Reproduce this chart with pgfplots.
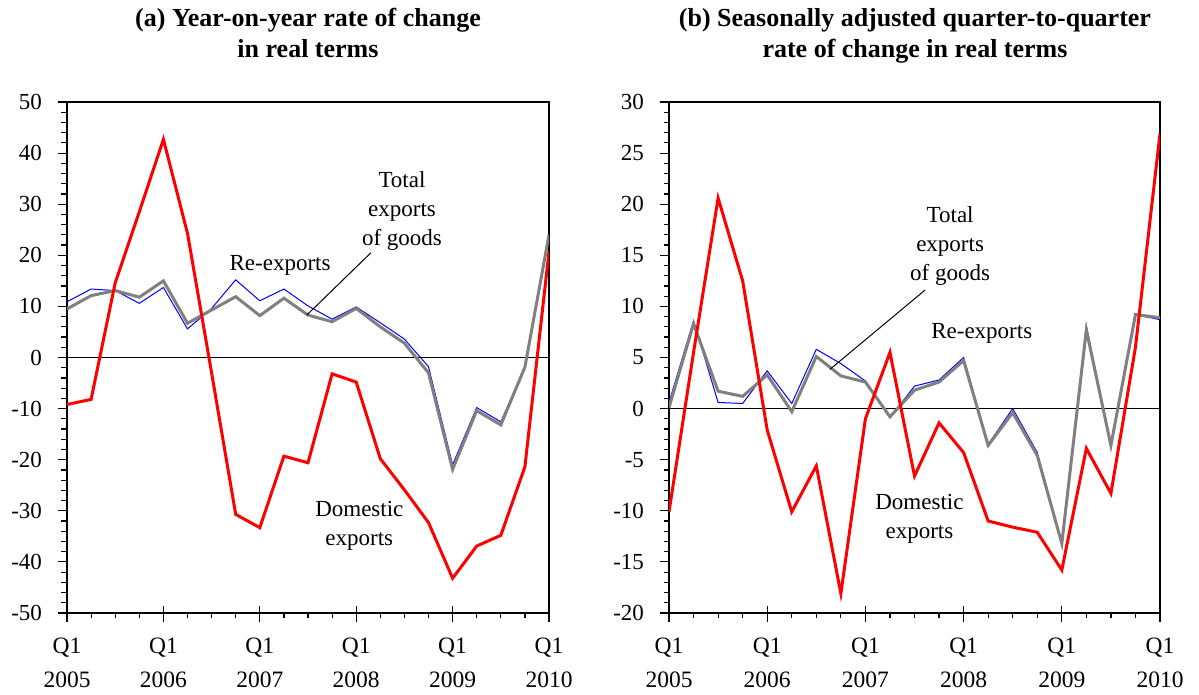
\documentclass[border=0pt]{standalone}
\usepackage{fontspec}
\setmainfont{Liberation Serif}
\usepackage{pgfplots}
\usepackage{pgfplotstable}
\pgfplotsset{compat=1.18}

% q = quarter index from Q1 2005
\pgfplotstableread{
q  re     tot    dom
0  10.9   9.5   -9.2
1  13.4   12.1  -8.2
2  13.1   13.1  14.6
3  10.6   11.8  28.5
4  13.7   15.0  42.7
5  5.6    6.7   24.3
6  9.6    9.3   -3.0
7  15.2   11.9  -30.7
8  11.1   8.2   -33.3
9  13.4   11.6  -19.3
10 10.1   8.3   -20.6
11 7.5    7.0   -3.2
12 9.9    9.6   -4.8
13 6.8    6.0   -19.8
14 3.6    2.8   -25.9
15 -1.8   -3.0  -32.3
16 -21.0  -21.9 -43.2
17 -9.8   -10.4 -36.9
18 -12.6  -13.2 -34.8
19 -1.8   -1.9  -21.4
20 23.5   24.0  20.7
}\yoy

\pgfplotstableread{
q  re     tot    dom
0  0.6    0.1   -10.1
1  8.6    8.3   5.5
2  0.6    1.7   20.6
3  0.5    1.2   12.5
4  3.7    3.3   -2.1
5  0.5    -0.3  -10.1
6  5.8    5.1   -5.6
7  4.4    3.2   -18.1
8  2.7    2.6   -1.0
9  -0.9   -0.8  5.5
10 2.2    1.8   -6.6
11 2.8    2.6   -1.4
12 5.0    4.7   -4.3
13 -3.5   -3.6  -11.0
14 0.0    -0.4  -11.6
15 -4.3   -4.6  -12.1
16 -13.1  -13.2 -15.8
17 8.1    7.7   -3.9
18 -3.6   -3.6  -8.3
19 9.2    9.2   6.0
20 8.7    8.9   26.9
}\qoq

\definecolor{tgray}{RGB}{128,128,128}

\tikzset{lab/.style={font=\fontsize{11.5}{14.5}\selectfont, align=center}}

\pgfplotsset{
  panel/.style={
    scale only axis, height=255.5pt,
    xmin=0, xmax=20,
    xtick={0,4,...,20},
    xticklabels={Q1\\2005,Q1\\2006,Q1\\2007,Q1\\2008,Q1\\2009,Q1\\2010},
    minor x tick num=3,
    xtick pos=bottom, ytick pos=left,
    tick align=outside,
    major tick length=4.5pt, minor tick length=2.75pt,
    axis line style={black, line width=0.8pt},
    every tick/.style={black, line width=0.6pt},
    extra x ticks={0,4,...,20},
    extra x tick labels={},
    extra x tick style={tick align=inside, major tick length=3.5pt},
    xticklabel style={align=center, font=\fontsize{11.75}{17}\selectfont, yshift=-4.5pt},
    yticklabel style={font=\fontsize{11.5}{14}\selectfont, xshift=-4.5pt},
  },
  re/.style={blue, line width=0.5pt},
  tot/.style={tgray, line width=1.5pt},
  dom/.style={red, line width=1.5pt},
}

\begin{document}
\begin{tikzpicture}
\useasboundingbox (0,0) rectangle (599.5pt,347.5pt);

\node[anchor=base, font=\bfseries\fontsize{13}{16}\selectfont] at (154pt,334.25pt) {(a) Year-on-year rate of change};
\node[anchor=base, font=\bfseries\fontsize{13}{16}\selectfont] at (154pt,318.5pt) {in real terms};
\node[anchor=base, font=\bfseries\fontsize{13}{16}\selectfont] at (457.5pt,334.25pt) {(b) Seasonally adjusted quarter-to-quarter};
\node[anchor=base, font=\bfseries\fontsize{13}{16}\selectfont] at (457.5pt,318.5pt) {rate of change in real terms};

\begin{axis}[panel, at={(33.5pt,41pt)}, anchor=south west, width=241pt,
  ymin=-50, ymax=50, ytick={-50,-40,...,50},
  yticklabels={-50,-40,-30,-20,-10,0,10,20,30,40,50},
  minor y tick num=4]
  \addplot[black, line width=0.5pt] coordinates {(0,0) (20,0)};
  \addplot[re] table[x=q, y=re] {\yoy};
  \addplot[tot] table[x=q, y=tot] {\yoy};
  \addplot[dom] table[x=q, y=dom] {\yoy};
  \node[anchor=base west, font=\fontsize{10.5}{12}\selectfont, inner sep=0pt] at (rel axis cs:-0.004,1) [yshift=4.5pt] {Percent};
  \node[lab] at (axis cs:8.84,18.1) {Re-exports};
  \node[lab] at (axis cs:13.9,28.7) {Total\\exports\\of goods};
  \draw[black, line width=0.5pt] (axis cs:12.61,20.5) -- (axis cs:9.95,8.3);
  \node[lab] at (axis cs:12.13,-33.0) {Domestic\\exports};
\end{axis}

\begin{axis}[panel, at={(334.5pt,41pt)}, anchor=south west, width=245.5pt,
  ymin=-20, ymax=30, ytick={-20,-15,...,30},
  yticklabels={-20,-15,-10,-5,0,5,10,15,20,25,30},
  minor y tick num=4]
  \addplot[black, line width=0.5pt] coordinates {(0,0) (20,0)};
  \addplot[re] table[x=q, y=re] {\qoq};
  \addplot[tot] table[x=q, y=tot] {\qoq};
  \addplot[dom] table[x=q, y=dom] {\qoq};
  \node[anchor=base west, font=\fontsize{10.5}{12}\selectfont, inner sep=0pt] at (rel axis cs:0.0,1) [yshift=4.5pt] {Percent};
  \node[lab] at (axis cs:11.45,15.9) {Total\\exports\\of goods};
  \draw[black, line width=0.5pt] (axis cs:10.43,11.6) -- (axis cs:6.56,3.85);
  \node[lab] at (axis cs:12.74,7.34) {Re-exports};
  \node[lab] at (axis cs:10.2,-10.83) {Domestic\\exports};
\end{axis}
\end{tikzpicture}
\end{document}
